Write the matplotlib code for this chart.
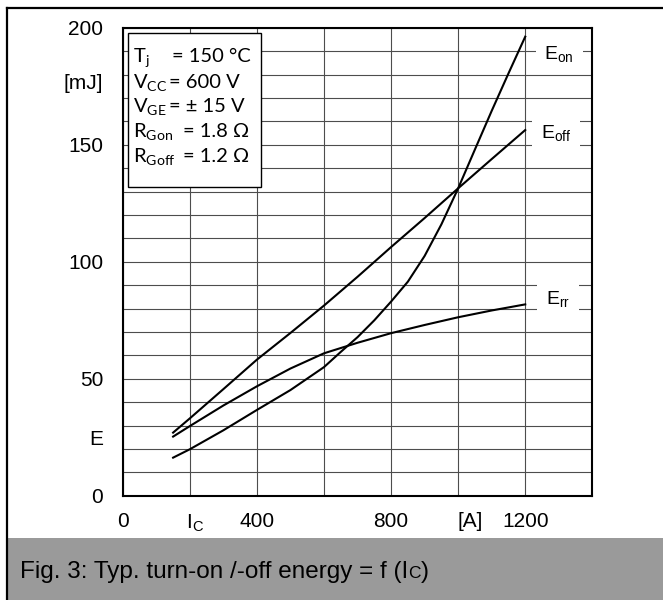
import numpy as np
import matplotlib
matplotlib.use('Agg')
import matplotlib.pyplot as plt
from matplotlib.lines import Line2D
from matplotlib.patches import Rectangle

# collector current [A] and switching energies [mJ]
ic_off = [150, 200, 300, 400, 500, 600, 700, 800, 900, 1000, 1100, 1200]
e_off = [27.0, 33.1, 45.6, 58.2, 69.6, 81.3, 93.6, 106.3, 118.7, 131.4, 143.9, 156.3]

ic_rr = [150, 200, 300, 400, 500, 600, 700, 800, 900, 1000, 1100, 1200]
e_rr = [25.3, 29.8, 38.6, 46.8, 54.4, 60.9, 65.4, 69.5, 73.0, 76.3, 79.2, 81.8]

ic_on = [150, 200, 300, 400, 500, 600, 650, 700, 750, 800, 850, 900, 950, 1000, 1050, 1100, 1150, 1200]
e_on = [16.3, 19.9, 28.0, 36.7, 45.2, 55.0, 61.5, 67.8, 75.0, 83.0, 91.5, 102.5, 116.0, 131.4, 148.0, 164.5, 180.5, 196.2]

xtick_pos = [0, 215, 400, 800, 1036, 1200]
xtick_labels = ['0', r'I$_\mathregular{C}$', '400', '800', '[A]', '1200']
ytick_pos = [0, 25, 50, 100, 150, 177, 200]
ytick_labels = ['0', 'E', '50', '100', '150', '[mJ]', '200']

cond_names = [r'$\mathregular{T_j}$', r'$\mathregular{V_{CC}}$', r'$\mathregular{V_{GE}}$',
              r'$\mathregular{R_{Gon}}$', r'$\mathregular{R_{Goff}}$']
cond_values = ['= 150 °C', '= 600 V', '= ± 15 V', '= 1.8 Ω', '= 1.2 Ω']

ARIAL = ['Liberation Sans', 'DejaVu Sans']
CALIBRI = ['Lato', 'DejaVu Sans']
plt.rcParams['font.family'] = ARIAL

W, H = 663, 600
fig = plt.figure(figsize=(W / 100, H / 100), dpi=100)
fig.patch.set_facecolor('white')

# plot area in pixel terms of the reference
x0, x1, y_top, y_bot = 122.8, 592.3, 27.8, 495.8
ax = fig.add_axes([x0 / W, (H - y_bot) / H, (x1 - x0) / W, (y_bot - y_top) / H])
ax.set_xlim(0, 1400)
ax.set_ylim(0, 200)

# grid on minor ticks, labels on major ticks
ax.xaxis.remove_overlapping_locs = False
ax.yaxis.remove_overlapping_locs = False
ax.set_xticks(np.arange(0, 1401, 200), minor=True)
ax.set_yticks(np.arange(0, 201, 10), minor=True)
ax.set_xticks(xtick_pos)
ax.set_xticklabels(xtick_labels)
ax.set_yticks(ytick_pos)
ax.set_yticklabels(ytick_labels)
ax.grid(which='minor', color='0.3', lw=0.8)
ax.grid(which='major', visible=False)
ax.set_axisbelow(True)
ax.tick_params(which='both', length=0)
ax.tick_params(axis='x', pad=12, labelsize=15)
ax.tick_params(axis='y', pad=14, labelsize=15)
for sp in ax.spines.values():
    sp.set_linewidth(1.5)
    sp.set_color('black')

ax.plot(ic_on, e_on, color='black', lw=1.5, zorder=4)
ax.plot(ic_off, e_off, color='black', lw=1.5, zorder=4)
ax.plot(ic_rr, e_rr, color='black', lw=1.5, zorder=4)

lbl_box = dict(boxstyle='square,pad=0.45', facecolor='white', edgecolor='none')
ax.text(1257, 186.2, r'E$_\mathregular{on}$', fontsize=14, va='baseline', bbox=lbl_box, zorder=5)
ax.text(1246, 152.4, r'E$_\mathregular{off}$', fontsize=14, va='baseline', bbox=lbl_box, zorder=5)
ax.text(1262, 81.6, r'E$_\mathregular{rr}$', fontsize=14, va='baseline', bbox=lbl_box, zorder=5)

# conditions box
ax.add_patch(Rectangle((16.4, 132.1), 413 - 16.4, 197.6 - 132.1, facecolor='white',
                       edgecolor='black', lw=1.0, zorder=3))
baselines = [185.5, 174.1, 163.9, 153.3, 142.5]
value_x = [145.5, 137.5, 138.4, 180, 180]
for name, val, yb, xv in zip(cond_names, cond_values, baselines, value_x):
    ax.text(31, yb, name, fontsize=14.5, family=CALIBRI, va='baseline', zorder=4)
    ax.text(xv, yb, val, fontsize=14.5, family=CALIBRI, va='baseline', zorder=4)

# frame and caption band
fig.add_artist(Rectangle((7 / W, 0), 1 - 7 / W, 61.7 / H, transform=fig.transFigure,
                         facecolor='#9a9a9a', edgecolor='none'))
fig.add_artist(Line2D([7 / W, 7 / W], [0, 1 - 8 / H], transform=fig.transFigure, color='black', lw=1.6))
fig.add_artist(Line2D([7 / W, 1], [1 - 8 / H, 1 - 8 / H], transform=fig.transFigure, color='black', lw=1.6))

cap_y = 1 - 578.3 / H
t1 = fig.text(20 / W, cap_y, 'Fig. 3: Typ. turn-on /-off energy = f (I', fontsize=17.5, va='baseline')
renderer = fig.canvas.get_renderer()
bb = t1.get_window_extent(renderer)
t2 = fig.text(bb.x1 / W, cap_y, 'C', fontsize=12.5, va='baseline')
bb2 = t2.get_window_extent(renderer)
fig.text(bb2.x1 / W, cap_y, ')', fontsize=17.5, va='baseline')

fig.savefig('out.png', dpi=100)
